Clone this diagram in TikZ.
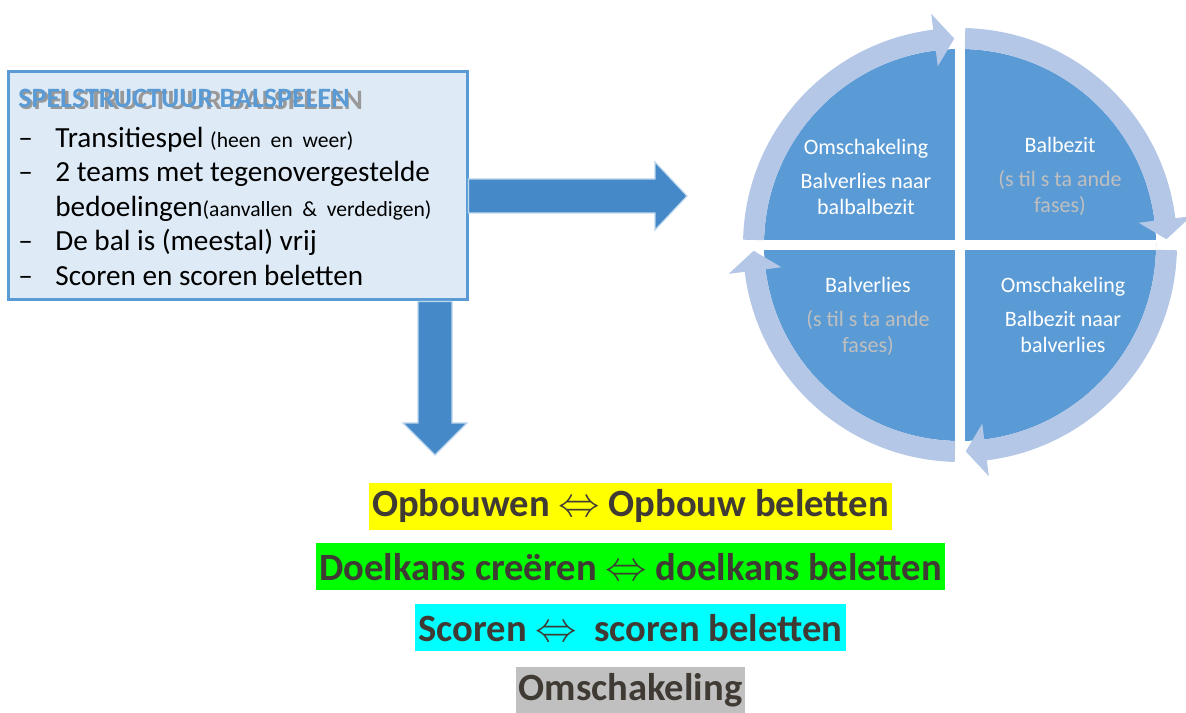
\documentclass[tikz,border=0pt]{standalone}
\usepackage{fontspec}
\setmainfont{Carlito}
\usetikzlibrary{positioning,calc}

\definecolor{boxfill}{HTML}{DEEBF7}
\definecolor{boxline}{HTML}{5B9BD5}
\definecolor{arrowblue}{HTML}{4589C8}
\definecolor{arrowedge}{HTML}{BDD7EE}
\definecolor{discblue}{HTML}{5B9BD5}
\definecolor{ringblue}{HTML}{B4C7E7}
\definecolor{fasegray}{HTML}{BFBFBF}
\definecolor{bartext}{HTML}{403A35}
\definecolor{baryellow}{HTML}{FFFF00}
\definecolor{bargreen}{HTML}{00FF00}
\definecolor{barcyan}{HTML}{00FFFF}
\definecolor{bargray}{HTML}{C0C0C0}

\newcommand{\shadowtitle}[1]{\makebox[0pt][l]{\raisebox{-1pt}{\hspace{0.8pt}\scalebox{1.035}[1]{\textcolor{black!40}{#1}}}}#1}

\tikzset{
  blockarrow/.style={fill=arrowblue, draw=arrowedge, line width=0.6pt},
  quarter/.style={text=white, font=\fontsize{11}{13}\selectfont, align=center, inner sep=0pt},
  bar/.style={font=\fontsize{19.3}{23}\selectfont\bfseries, text=bartext, minimum height=23.5pt, inner xsep=1.5pt, inner ysep=0pt},
}

\begin{document}
\begin{tikzpicture}[x=0.5pt, y=0.5pt]
    \useasboundingbox (0,0) rectangle (1186,712);
    % left box with the structure
    \node[draw=boxline, line width=1.5pt, fill=boxfill, minimum width=229.5pt, minimum height=114pt, inner sep=0pt] (spel) at (237.5,526) {};
    \node[anchor=west, font=\fontsize{14}{16}\selectfont\bfseries, text=boxline, inner sep=0pt] (title) at (18,613) {\shadowtitle{SPELSTRUCTUUR BALSPELEN}};
    \node[anchor=north west, align=left, inner sep=0pt, font=\fontsize{14.6}{17.25}\selectfont] (items) at (18,585.5) {%
        \makebox[18.5pt][l]{–}Transitiespel {\fontsize{10.8}{13}\selectfont(heen~~en~~weer)}\\
        \makebox[18.5pt][l]{–}2 teams met tegenovergestelde\\
        \hspace*{18.5pt}bedoelingen{\fontsize{10.8}{13}\selectfont(aanvallen~~\&~~verdedigen)}\\
        \makebox[18.5pt][l]{–}De bal is (meestal) vrij\\
        \makebox[18.5pt][l]{–}Scoren en scoren beletten};

    % block arrows out of the box
    \coordinate (rtip) at (687,516);
    \coordinate (dtip) at (435,257);
    \fill[blockarrow] ($(spel.east)+(0,7)$) -- ($(rtip)+(-32,17)$) -- ($(rtip)+(-32,34)$) -- (rtip)
        -- ($(rtip)+(-32,-34)$) -- ($(rtip)+(-32,-17)$) -- ($(spel.east)+(0,-27)$) -- cycle;
    \fill[blockarrow] ($(spel.south -| dtip)+(-17,0)$) -- ($(dtip)+(-17,32)$) -- ($(dtip)+(-32,32)$) -- (dtip)
        -- ($(dtip)+(32,32)$) -- ($(dtip)+(17,32)$) -- ($(spel.south -| dtip)+(17,0)$) -- cycle;

    % cycle of phases
    \node[circle, fill=discblue, minimum size=196pt, inner sep=0pt] (cyc) at (960,467) {};
    \draw[white, line width=5pt] (cyc.west) -- (cyc.east) (cyc.north) -- (cyc.south);
    \begin{scope}[shift={(cyc.center)}]
        \foreach \s in {178.6,88.6,-1.4,-91.4}{
            \pgfmathsetmacro\t{\s-87}
            \pgfmathsetmacro\b{\s-81.5}
            \fill[ringblue] (\s:217) arc[start angle=\s, end angle=\b, radius=217] -- (\b:233) -- (\t:206.5)
                -- (\b:180) -- (\b:196) arc[start angle=\b, end angle=\s, radius=196] -- cycle;
        }
    \end{scope}
    \node[quarter] (omzetverlies) at ($(cyc.center)+(-94,68)$) {Omschakeling\\[4pt]Balverlies naar\\balbalbezit};
    \node[quarter] (balbezit) at ($(cyc.center)+(100,69)$) {Balbezit\\[4pt]\textcolor{fasegray}{(s til s ta ande}\\\textcolor{fasegray}{fases)}};
    \node[quarter] (omzetbezit) at ($(cyc.center)+(103,-70)$) {Omschakeling\\[4pt]Balbezit naar\\balverlies};
    \node[quarter] (balverlies) at ($(cyc.center)+(-92,-71)$) {Balverlies\\[4pt]\textcolor{fasegray}{(s til s ta ande}\\\textcolor{fasegray}{fases)}};

    % highlighted pairs below
    \node[bar, fill=baryellow] (build) at (630.5,206) {Opbouwen $\Leftrightarrow$ Opbouw beletten};
    \node[bar, fill=bargreen, below=6.5pt of build] (chance) {Doelkans creëren $\Leftrightarrow$ doelkans beletten};
    \node[bar, fill=barcyan, below=6.5pt of chance] (score) {Scoren $\Leftrightarrow$~~scoren beletten};
    \node[bar, fill=bargray, below=7.5pt of score] (switch) {Omschakeling};
\end{tikzpicture}
\end{document}
